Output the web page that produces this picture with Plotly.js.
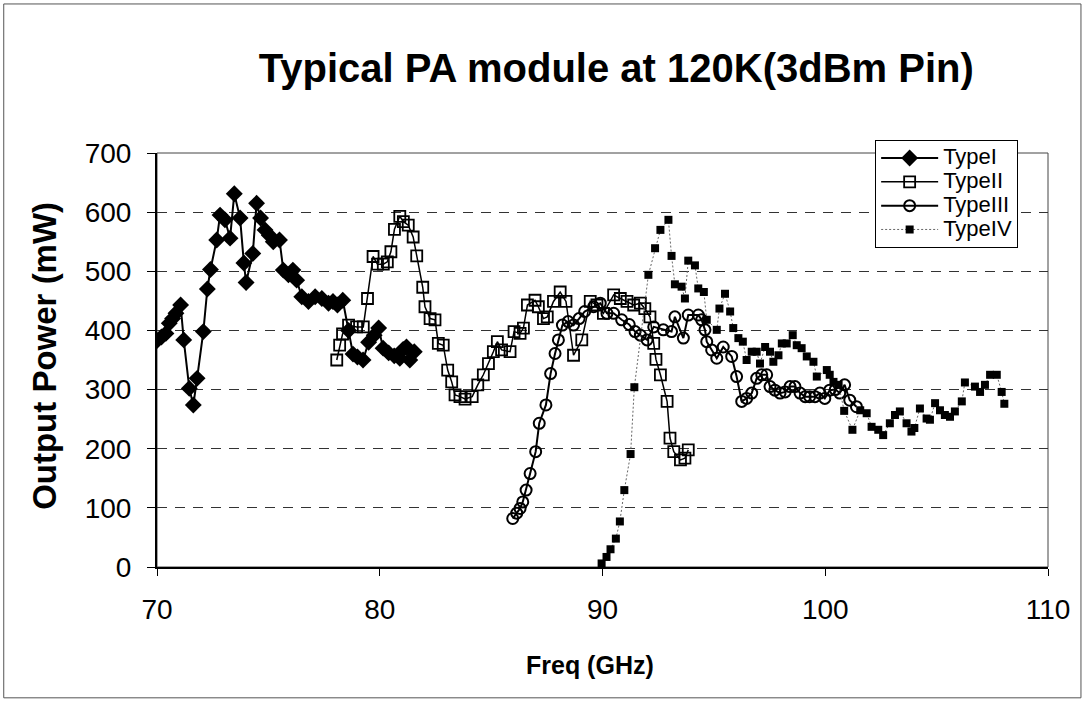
<!DOCTYPE html>
<html>
<head>
<meta charset="utf-8">
<script src="https://cdn.plot.ly/plotly-3.0.1.min.js"></script>
<style>html,body{margin:0;padding:0;background:#fff;}#chart{width:1085px;height:705px;}</style>
</head>
<body>
<div id="chart"></div>
<script>
// Type I (filled diamonds, solid line)
const freqI = [70.0,70.2,70.4,70.55,70.7,70.85,71.06,71.2,71.45,71.63,71.8,72.08,72.26,72.4,72.68,72.83,73.05,73.28,73.47,73.73,73.9,74.0,74.3,74.47,74.65,74.85,75.04,75.22,75.5,75.67,75.9,76.1,76.27,76.5,76.8,77.1,77.4,77.7,77.9,78.1,78.34,78.6,78.8,79.0,79.25,79.5,79.75,79.95,80.15,80.4,80.65,80.9,81.05,81.2,81.35,81.55];
const powerI = [383,389,395,412,420,429,443,384,302,274,319,398,470,503,553,595,587,556,631,590,514,481,530,615,590,570,561,550,553,502,494,502,485,457,449,457,454,446,449,443,451,400,360,355,350,380,392,404,370,362,357,353,368,372,350,364];

// Type II (open squares, solid line)
const freqII = [78.07,78.2,78.33,78.6,78.96,79.26,79.45,79.7,79.9,80.16,80.34,80.5,80.66,80.9,81.06,81.28,81.5,81.66,81.93,82.03,82.26,82.48,82.63,82.85,83.05,83.23,83.38,83.6,83.83,84.15,84.4,84.65,84.88,85.1,85.28,85.47,85.85,86.03,86.3,86.45,86.63,86.97,87.12,87.35,87.52,87.8,88.1,88.36,88.7,89.07,89.45,89.75,90.04,90.5,90.8,91.1,91.4,91.7,91.9,92.13,92.3,92.4,92.6,92.9,93.03,93.2,93.5,93.7,93.85];
const powerII = [350,375,394,409,406,406,454,525,512,512,516,533,571,593,584,578,558,526,473,440,420,418,378,375,333,313,291,288,284,288,308,325,344,364,381,367,364,398,395,404,443,451,440,420,423,449,465,449,358,384,449,443,429,460,454,449,443,446,437,423,378,351,325,280,218,195,181,184,198];

// Type III (open circles, solid line)
const freqIII = [85.97,86.15,86.3,86.42,86.57,86.75,87.0,87.16,87.46,87.67,87.87,88.02,88.2,88.46,88.7,88.95,89.2,89.6,89.9,90.2,90.5,90.86,91.2,91.46,91.7,92.0,92.3,92.73,93.1,93.25,93.63,93.85,94.3,94.45,94.6,94.68,94.9,95.13,95.42,95.8,96.02,96.25,96.47,96.7,96.92,97.15,97.37,97.52,97.74,97.97,98.2,98.42,98.64,98.87,99.1,99.3,99.54,99.76,99.98,100.2,100.45,100.65,100.87,101.1,101.4];
const powerIII = [82,91,99,110,130,158,195,243,274,327,361,384,409,415,409,420,432,440,446,429,429,418,410,398,392,384,406,401,398,423,387,426,426,418,401,381,367,353,372,356,322,280,285,294,319,325,325,305,299,294,296,305,305,294,288,288,288,294,285,299,300,294,308,282,271];

// Type IV (filled small squares, dotted line)
const freqIV = [89.96,90.18,90.36,90.6,90.78,90.98,91.26,91.43,92.06,92.36,92.6,92.96,93.1,93.25,93.55,93.7,93.85,94.15,94.3,94.55,94.68,95.13,95.25,95.5,95.73,95.87,96.1,96.3,96.47,96.7,96.92,97.07,97.3,97.52,97.67,97.9,98.05,98.27,98.54,98.72,98.94,99.17,99.47,99.62,100.07,100.2,100.37,100.6,100.85,101.22,101.57,101.86,102.08,102.38,102.6,102.9,103.13,103.35,103.65,103.87,104.0,104.25,104.55,104.7,104.93,105.15,105.37,105.6,105.82,106.13,106.27,106.72,106.95,107.17,107.4,107.7,107.92,108.04];
const powerIV = [6,17,30,48,77,130,191,304,494,539,570,587,526,478,474,454,518,510,471,465,418,401,437,462,432,404,387,381,350,364,364,344,372,364,347,358,378,378,392,375,370,356,347,322,333,325,313,308,264,232,265,260,237,232,223,243,257,263,243,229,235,268,251,249,277,265,257,254,263,280,312,305,296,308,325,325,296,276];

const seriesNames = ['TypeI','TypeII','TypeIII','TypeIV'];
const xTicks = [70,80,90,100,110];
const yTicks = [0,100,200,300,400,500,600,700];

const FONT = 'Liberation Sans, Arial, Helvetica, sans-serif';
const legendLabel = s => '<span style="font-size:22px">' + s + '</span>';

const traces = [
  {x: freqI, y: powerI, name: legendLabel(seriesNames[0]), mode: 'lines+markers',
   line: {color: '#000', width: 2},
   marker: {symbol: 'diamond', size: 13, color: '#000'}},
  {x: freqII, y: powerII, name: legendLabel(seriesNames[1]), mode: 'lines+markers',
   line: {color: '#000', width: 1.5},
   marker: {symbol: 'square-open', size: 11, color: '#000', line: {width: 1.8}}},
  {x: freqIII, y: powerIII, name: legendLabel(seriesNames[2]), mode: 'lines+markers',
   line: {color: '#000', width: 2},
   marker: {symbol: 'circle-open', size: 11, color: '#000', line: {width: 2}}},
  {x: freqIV, y: powerIV, name: legendLabel(seriesNames[3]), mode: 'lines+markers',
   line: {color: '#666', width: 1, dash: '2px,2px'},
   marker: {symbol: 'square', size: 8, color: '#000'}}
];

const layout = {
  width: 1085, height: 705,
  paper_bgcolor: '#fff', plot_bgcolor: '#fff',
  margin: {l: 157, r: 37, t: 153, b: 138},
  font: {family: FONT, color: '#000'},
  title: {text: '<b>Typical PA module at 120K(3dBm Pin)</b>', font: {size: 40, family: FONT, color: '#000'},
          x: 0.568, xref: 'container', xanchor: 'center', y: 0.903, yref: 'container', yanchor: 'middle'},
  xaxis: {
    range: [70, 110], tickvals: xTicks, ticktext: xTicks.map(String),
    showgrid: false, zeroline: false,
    showline: true, linecolor: '#000', linewidth: 2,
    ticks: 'outside', ticklen: 7, tickcolor: '#000', tickwidth: 1,
    tickfont: {size: 28, family: FONT, color: '#000'}, ticklabelstandoff: 9
  },
  yaxis: {
    range: [0, 700], tickvals: yTicks, ticktext: yTicks.map(String),
    showgrid: true, gridcolor: '#333', gridwidth: 1, griddash: '10px,8px',
    zeroline: false,
    showline: true, linecolor: '#000', linewidth: 2,
    ticks: 'outside', ticklen: 8, tickcolor: '#000', tickwidth: 1,
    tickfont: {size: 28, family: FONT, color: '#000'}, ticklabelstandoff: 10
  },
  annotations: [
    {text: '<b>Freq (GHz)</b>', xref: 'paper', yref: 'paper', x: 0.486, y: -0.237,
     xanchor: 'center', yanchor: 'middle', showarrow: false,
     font: {size: 25, family: FONT, color: '#000'}},
    {text: '<b>Output Power (mW)</b>', xref: 'paper', yref: 'paper', x: -0.1257, y: 0.51,
     xanchor: 'center', yanchor: 'middle', showarrow: false, textangle: -90,
     font: {size: 33, family: FONT, color: '#000'}}
  ],
  showlegend: true,
  legend: {x: 0.806, y: 1.031, xanchor: 'left', yanchor: 'top',
           bgcolor: '#fff', bordercolor: '#000', borderwidth: 1,
           font: {size: 16, family: FONT, color: '#000'}, tracegroupgap: 0, itemwidth: 57},
  shapes: [
    {type: 'rect', xref: 'paper', yref: 'paper', x0: 0, x1: 1, y0: 0, y1: 1,
     line: {color: '#444', width: 1}, layer: 'below'},
    {type: 'rect', xref: 'paper', yref: 'paper', x0: -0.172, x1: 1.037, y0: -0.316, y1: 1.36,
     line: {color: '#555', width: 1}}
  ]
};

Plotly.newPlot('chart', traces, layout, {displayModeBar: false, staticPlot: true});
</script>
</body>
</html>
